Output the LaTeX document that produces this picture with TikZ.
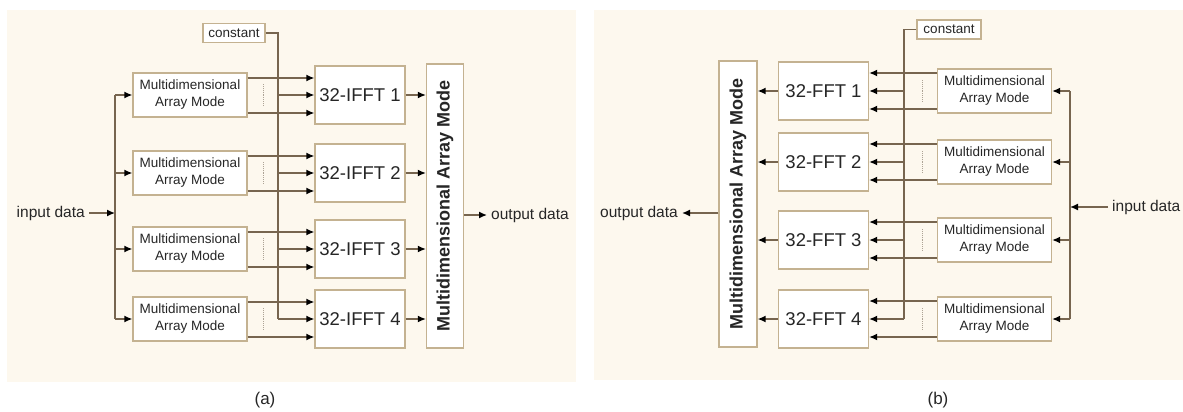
\documentclass[tikz,border=0pt]{standalone}
\usepackage{fontspec}
\setmainfont{Liberation Sans}
\setsansfont{Liberation Sans}
\usetikzlibrary{arrows.meta, positioning}
\definecolor{paper}{HTML}{FDF8EE}
\definecolor{wire}{HTML}{77654F}
\definecolor{rim}{HTML}{C4B291}
\definecolor{ink}{HTML}{262626}
\tikzstyle{arr} = [wire, line width=1.4pt, -{Latex[length=8pt,width=7pt,color=black]}]
\tikzstyle{bus} = [wire, line width=1.4pt]

\begin{document}
\begin{tikzpicture}[x=1pt, y=-1pt,
        every node/.style={text=ink, inner sep=0pt},
        mam/.style={rectangle, draw=rim, line width=1.3pt, fill=white,
            minimum width=114pt, minimum height=44pt, align=center,
            font=\fontsize{13.5}{17}\selectfont},
        fftbox/.style={rectangle, draw=rim, line width=1.3pt, fill=white,
            minimum width=90pt, minimum height=58pt,
            font=\fontsize{18.5}{20}\selectfont},
        bigbox/.style={rectangle, draw=rim, line width=1.3pt, fill=white,
            minimum width=284pt, minimum height=37pt, rotate=90,
            font=\bfseries\fontsize{18}{20}\selectfont},
        constbox/.style={rectangle, draw=rim, line width=1.3pt, fill=white,
            minimum width=62pt, minimum height=19pt,
            font=\fontsize{13.5}{14}\selectfont},
        io/.style={font=\fontsize{15.5}{17}\selectfont, inner sep=4pt},
        gap/.style={wire!60, densely dotted, line width=0.9pt}
    ]
    \useasboundingbox (0,0) rectangle (1183,412);
    \fill[paper] (7,10) rectangle (576,382);
    \fill[paper] (594,10) rectangle (1183,380);

    % (a) IFFT side
    \node (constA) [constbox] at (234,33)  {constant};
    \node (mamA1)  [mam]      at (190,95)  {Multidimensional\\Array Mode};
    \node (mamA2)  [mam]      at (190,173) {Multidimensional\\Array Mode};
    \node (mamA3)  [mam]      at (190,249) {Multidimensional\\Array Mode};
    \node (mamA4)  [mam]      at (190,319) {Multidimensional\\Array Mode};
    \node (ifftA1) [fftbox]   at (360,95)  {32-IFFT 1};
    \node (ifftA2) [fftbox]   at (360,173) {32-IFFT 2};
    \node (ifftA3) [fftbox]   at (360,249) {32-IFFT 3};
    \node (ifftA4) [fftbox]   at (360,319) {32-IFFT 4};
    \node (bigA)   [bigbox]   at (445,206) {Multidimensional Array Mode};
    \node (inA)    [io, anchor=east] at (89,213)  {input data};
    \node (outA)   [io, anchor=west] at (487,215) {output data};
    \coordinate (busA)  at (115,213);
    \coordinate (cbusA) at (278,33);

    \draw [arr] (inA.east) -- (busA);
    \draw [bus] (busA |- mamA1.west) -- (busA |- mamA4.west);
    \draw [bus] (constA.east) -- (cbusA) -- (cbusA |- ifftA4.west);
    \foreach \i in {1,...,4} {
        \draw [arr] (busA |- mamA\i.west) -- (mamA\i.west);
        \draw [arr] ([yshift=17pt]mamA\i.east) -- ([yshift=17pt]ifftA\i.west);
        \draw [arr] ([yshift=-18pt]mamA\i.east) -- ([yshift=-18pt]ifftA\i.west);
        \draw [arr] (cbusA |- ifftA\i.west) -- (ifftA\i.west);
        \draw [gap] ([shift={(16pt,11pt)}]mamA\i.east)
            -- ([shift={(16pt,-11pt)}]mamA\i.east);
        \draw [arr] (ifftA\i.east) -- (ifftA\i.east -| bigA.north);
    }
    \draw [arr] (bigA.south |- outA.west) -- (outA.west);

    % (b) FFT side
    \node (constB) [constbox, minimum width=64pt] at (949,29.5) {constant};
    \node (mamB1)  [mam]      at (994.5,91)  {Multidimensional\\Array Mode};
    \node (mamB2)  [mam]      at (994.5,162) {Multidimensional\\Array Mode};
    \node (mamB3)  [mam]      at (994.5,240) {Multidimensional\\Array Mode};
    \node (mamB4)  [mam]      at (994.5,319) {Multidimensional\\Array Mode};
    \node (fftB1)  [fftbox]   at (823.5,91)  {32-FFT 1};
    \node (fftB2)  [fftbox]   at (823.5,162) {32-FFT 2};
    \node (fftB3)  [fftbox]   at (823.5,240) {32-FFT 3};
    \node (fftB4)  [fftbox]   at (823.5,319) {32-FFT 4};
    \node (bigB)   [bigbox, minimum width=286pt, minimum height=38pt]
        at (738,204) {Multidimensional Array Mode};
    \node (inB)    [io, anchor=west] at (1108,207) {input data};
    \node (outB)   [io, anchor=east] at (682,213)  {output data};
    \coordinate (busB)  at (1070,207);
    \coordinate (cbusB) at (904,29.5);

    \draw [arr] (inB.west) -- (busB);
    \draw [bus] (busB |- mamB1.east) -- (busB |- mamB4.east);
    \draw [bus] (constB.west) -- (cbusB) -- (cbusB |- fftB4.east);
    \foreach \i in {1,...,4} {
        \draw [arr] (busB |- mamB\i.east) -- (mamB\i.east);
        \draw [arr] ([yshift=18pt]mamB\i.west) -- ([yshift=18pt]fftB\i.east);
        \draw [arr] ([yshift=-18pt]mamB\i.west) -- ([yshift=-18pt]fftB\i.east);
        \draw [arr] (cbusB |- fftB\i.east) -- (fftB\i.east);
        \draw [gap] ([shift={(-14pt,11pt)}]mamB\i.west)
            -- ([shift={(-14pt,-11pt)}]mamB\i.west);
        \draw [arr] (fftB\i.west) -- (fftB\i.west -| bigB.south);
    }
    \draw [arr] (bigB.north |- outB.east) -- (outB.east);

    \node (capA) [font=\fontsize{17}{17}\selectfont] at (265,400) {(a)};
    \node (capB) [font=\fontsize{17}{17}\selectfont] at (938,400) {(b)};
\end{tikzpicture}
\end{document}
